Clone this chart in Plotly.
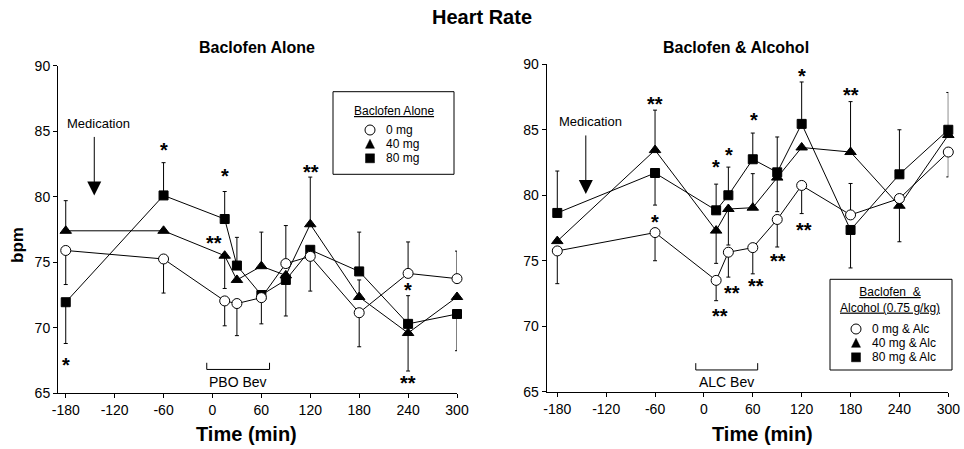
import plotly.graph_objects as go

# ---------------- data ----------------
times = [-180, -60, 15, 30, 60, 90, 120, 180, 240, 300]
x_tickvals = [-180, -120, -60, 0, 60, 120, 180, 240, 300]
x_ticktext = ["-180", "-120", "-60", "0", "60", "120", "180", "240", "300"]
y_tickvals = [65, 70, 75, 80, 85, 90]

# Baclofen alone
alone_0mg = [75.9, 75.25, 72.05, 71.85, 72.3, 74.9, 75.45, 71.15, 74.15, 73.75]
alone_0mg_up = [0, 0, 0, 0, 0, 2.9, 0, 0, 2.4, 2.1]
alone_0mg_dn = [2.6, 2.6, 1.9, 2.45, 2.0, 0, 2.65, 2.6, 0, 0]

alone_40mg = [77.4, 77.4, 75.5, 73.65, 74.7, 74.0, 77.9, 72.35, 69.6, 72.35]
alone_40mg_up = [2.3, 0, 0, 0, 2.6, 0, 3.6, 1.3, 0, 0]
alone_40mg_dn = [0, 0, 2.5, 0, 0, 0, 0, 0, 2.9, 0]

alone_80mg = [71.95, 80.1, 78.3, 74.75, 72.5, 73.65, 75.95, 74.3, 70.3, 71.05]
alone_80mg_up = [0, 2.5, 2.1, 2.15, 0, 0, 0, 3.0, 2.15, 0]
alone_80mg_dn = [3.15, 0, 0, 0, 0, 2.75, 0, 0, 0, 2.8]

# Baclofen & alcohol
alc_0mg = [75.75, 77.15, 73.5, 75.65, 76.0, 78.15, 80.75, 78.5, 79.75, 83.3]
alc_0mg_up = [0, 0, 0, 0, 0, 0, 0, 2.4, 0, 0]
alc_0mg_dn = [2.5, 2.15, 1.55, 1.9, 2.0, 2.1, 2.15, 0, 0, 1.9]

alc_40mg = [76.5, 83.45, 77.3, 78.95, 79.05, 81.35, 83.65, 83.3, 79.2, 84.6]
alc_40mg_up = [0, 3.05, 0, 0, 2.6, 0, 0, 3.85, 0, 0]
alc_40mg_dn = [0, 0, 2.5, 2.75, 0, 2.6, 0, 0, 2.75, 0]

alc_80mg = [78.65, 81.7, 78.85, 80.0, 82.75, 81.75, 85.45, 77.35, 81.6, 85.0]
alc_80mg_up = [3.2, 0, 2.0, 2.15, 2.0, 2.7, 3.2, 0, 3.4, 2.85]
alc_80mg_dn = [0, 2.45, 0, 0, 0, 0, 0, 2.9, 0, 0]

# significance markers: (time, value, text)
stars_alone = [(-180, 67.4, "*"), (-60, 83.8, "*"), (15, 81.8, "*"), (2, 76.7, "**"),
               (121, 82.1, "**"), (240, 73.1, "*"), (240, 66.0, "**")]
stars_alc = [(-60, 87.2, "**"), (-60, 78.2, "*"), (15, 82.4, "*"), (31, 83.3, "*"),
             (61, 86.0, "*"), (121, 89.3, "*"), (20, 71.0, "**"), (35, 72.8, "**"),
             (64, 73.3, "**"), (91, 75.2, "**"), (123, 77.6, "**"), (180, 87.9, "**")]

# beverage windows (min)
pbo_window = [-7, 70]
alc_window = [-10, 66]
medication_time = -145

legend_alone = ["0 mg", "40 mg", "80 mg"]
legend_alc = ["0 mg &amp; Alc", "40 mg &amp; Alc", "80 mg &amp; Alc"]

# ---------------- figure ----------------
W, H = 964, 449
FONT = "Liberation Sans, Arial, sans-serif"


def P(xp, yp):
    return xp / W, 1 - yp / H


fig = go.Figure()

series_styles = [
    dict(symbol="square", size=9, color="black", line=dict(color="black", width=1)),
    dict(symbol="triangle-up", size=10, color="black", line=dict(color="black", width=1)),
    dict(symbol="circle", size=10, color="white", line=dict(color="black", width=1)),
]


def add_panel(xa, ya, data):
    for (vals, up, dn), st in zip(data, series_styles):
        fig.add_trace(go.Scatter(
            x=times, y=vals, xaxis=xa, yaxis=ya, mode="lines+markers",
            line=dict(color="black", width=1),
            marker=st,
            error_y=dict(type="data", symmetric=False, array=up, arrayminus=dn,
                         color="black", thickness=1, width=2),
            showlegend=False, cliponaxis=False, hoverinfo="skip",
        ))


add_panel("x", "y", [(alone_80mg, alone_80mg_up, alone_80mg_dn),
                     (alone_40mg, alone_40mg_up, alone_40mg_dn),
                     (alone_0mg, alone_0mg_up, alone_0mg_dn)])
add_panel("x2", "y2", [(alc_80mg, alc_80mg_up, alc_80mg_dn),
                       (alc_40mg, alc_40mg_up, alc_40mg_dn),
                       (alc_0mg, alc_0mg_up, alc_0mg_dn)])

axis_common = dict(showline=True, linecolor="black", linewidth=1, ticks="outside",
                   ticklen=4, tickcolor="black", showgrid=False, zeroline=False,
                   automargin=False,
                   tickfont=dict(family=FONT, size=14, color="black"))

fig.update_layout(
    template="none",
    width=W, height=H, autosize=False,
    margin=dict(l=0, r=0, t=0, b=0, pad=0, autoexpand=False),
    paper_bgcolor="white", plot_bgcolor="white",
    font=dict(family=FONT, color="black"),
    xaxis=dict(domain=[58 / W, 457 / W], range=[-189.5, 300], anchor="y",
               tickvals=x_tickvals, ticktext=x_ticktext, **axis_common),
    yaxis=dict(domain=[1 - 393.3 / H, 1 - 65.7 / H], range=[65, 90], anchor="x",
               tickvals=y_tickvals, **axis_common),
    xaxis2=dict(domain=[546.7 / W, 948.3 / W], range=[-193, 300], anchor="y2",
                tickvals=x_tickvals, ticktext=x_ticktext, **axis_common),
    yaxis2=dict(domain=[1 - 391.7 / H, 1 - 64.3 / H], range=[65, 90], anchor="x2",
                tickvals=y_tickvals, **axis_common),
    title=dict(text="<b>Heart Rate</b>", x=0.5, xanchor="center", xref="paper",
               y=1 - 17 / H, yref="container", yanchor="middle",
               font=dict(family=FONT, size=20, color="black")),
)

ann = []


def pann(text, xp, yp, size, xanchor="center", **kw):
    x, y = P(xp, yp)
    ann.append(dict(text=text, x=x, y=y, xref="paper", yref="paper", showarrow=False,
                    xanchor=xanchor, yanchor="middle", font=dict(size=size, family=FONT), **kw))


# panel titles
pann("<b>Baclofen Alone</b>", 257, 48, 16)
pann("<b>Baclofen &amp; Alcohol</b>", 736, 48, 16)
# x titles
pann("<b>Time (min)</b>", 247, 434, 20)
pann("<b>Time (min)</b>", 762, 434, 20)
# y title
pann("<b>bpm</b>", 18, 245, 17, textangle=-90)

# medication arrows + text
for xr, yr in (("x", "y"), ("x2", "y2")):
    ann.append(dict(text="", x=medication_time, y=80.1, xref=xr, yref=yr, showarrow=True,
                    ax=0, ay=-60, arrowhead=2, arrowsize=2.8, arrowwidth=1, arrowcolor="black"))
    ann.append(dict(text="Medication", x=-139.7, y=85.6, xref=xr, yref=yr, showarrow=False,
                    xanchor="center", yanchor="middle", font=dict(size=13, family=FONT)))

# stars
for xr, yr, lst in (("x", "y", stars_alone), ("x2", "y2", stars_alc)):
    for t, v, s in lst:
        ann.append(dict(text="<b>%s</b>" % s, x=t, y=v, xref=xr, yref=yr, showarrow=False,
                        xanchor="center", yanchor="middle", yshift=-3,
                        font=dict(size=20, family=FONT)))

# beverage brackets
shapes = []
for (a, b), xr, yr, lab, ylo, yhi, ytxt in (
        (pbo_window, "x", "y", "PBO Bev", 66.82, 67.33, 65.88),
        (alc_window, "x2", "y2", "ALC Bev", 66.66, 67.18, 65.77)):
    shapes.append(dict(type="path", xref=xr, yref=yr,
                       path="M %g,%g L %g,%g L %g,%g L %g,%g" % (a, yhi, a, ylo, b, ylo, b, yhi),
                       line=dict(color="black", width=1)))
    ann.append(dict(text=lab, x=(a + b) / 2, y=ytxt, xref=xr, yref=yr, showarrow=False,
                    xanchor="center", yanchor="middle", font=dict(size=14, family=FONT)))


# legends (manual boxes)
def legend_box(x0p, y0p, x1p, y1p, title, tx, ty, sym_x, txt_x, rows, labels):
    a0 = P(x0p, y1p)
    a1 = P(x1p, y0p)
    shapes.append(dict(type="rect", xref="paper", yref="paper", x0=a0[0], y0=a0[1],
                       x1=a1[0], y1=a1[1], line=dict(color="black", width=1),
                       fillcolor="white", layer="below"))
    pann(title, tx, ty, 12, align="center")
    for i, (ry, lab) in enumerate(zip(rows, labels)):
        pann(lab, txt_x, ry, 12, xanchor="left")
        if i == 0:
            c0 = P(sym_x - 5, ry + 5)
            c1 = P(sym_x + 5, ry - 5)
            shapes.append(dict(type="circle", xref="paper", yref="paper", x0=c0[0], y0=c0[1],
                               x1=c1[0], y1=c1[1], line=dict(color="black", width=1),
                               fillcolor="white", layer="above"))
        elif i == 1:
            p1 = P(sym_x - 4.5, ry + 4)
            p2 = P(sym_x + 4.5, ry + 4)
            p3 = P(sym_x, ry - 5)
            shapes.append(dict(type="path", xref="paper", yref="paper",
                               path="M %f,%f L %f,%f L %f,%f Z" % (p1 + p2 + p3),
                               line=dict(color="black", width=0.5), fillcolor="black",
                               layer="above"))
        else:
            c0 = P(sym_x - 4.5, ry + 4.5)
            c1 = P(sym_x + 4.5, ry - 4.5)
            shapes.append(dict(type="rect", xref="paper", yref="paper", x0=c0[0], y0=c0[1],
                               x1=c1[0], y1=c1[1], line=dict(color="black", width=0.5),
                               fillcolor="black", layer="above"))


legend_box(333, 91.7, 454, 174.3, "<u>Baclofen Alone</u>", 394, 111, 370, 384,
           [130, 144.3, 158.3], legend_alone)
legend_box(830, 279.3, 952, 370, "<u>Baclofen  &amp;</u><br><u>Alcohol (0.75 g/kg)</u>",
           890, 300, 856, 870, [329, 343.3, 357.3], legend_alc)

fig.update_layout(annotations=ann, shapes=shapes)
fig.write_html("out.html", config={"displayModeBar": False, "staticPlot": True},
               post_script="document.body.style.margin='0';document.body.style.overflow='hidden';")
